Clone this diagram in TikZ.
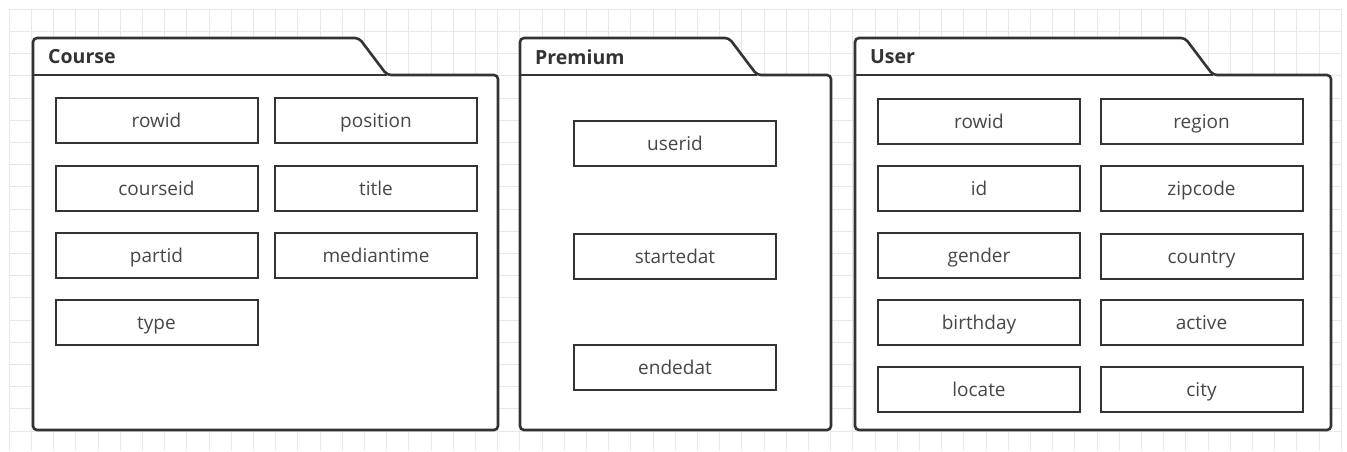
\documentclass[tikz,border=0pt]{standalone}
\usepackage{fontspec}
\setmainfont{Open Sans}
\definecolor{ink}{HTML}{333333}
\definecolor{gridline}{HTML}{E8E8E8}
\tikzset{
  field/.style={draw=ink, line width=2pt, fill=white, minimum width=202pt,
    minimum height=45pt, inner sep=0pt, text height=18pt, text depth=4pt,
    font=\fontsize{19}{21}\selectfont, text=ink!90},
  pkgline/.style={draw=ink, line width=2.6pt, fill=white, rounded corners=4pt},
  pkgtitle/.style={anchor=west, inner sep=0pt, font=\bfseries\fontsize{19.5}{21}\selectfont, text=ink}
}
\begin{document}
\begin{tikzpicture}[x=1pt, y=-1pt]
\useasboundingbox (0,0) rectangle (1347,451);
\fill[white] (0,0) rectangle (1347,451);
% background grid
\foreach \i in {0,...,60} {
  \draw[gridline, line width=1pt] ({9.3+22.2*\i},9.3) -- ({9.3+22.2*\i},451);
}
\foreach \j in {0,...,19} {
  \draw[gridline, line width=1pt] (9.3,{9.3+22.2*\j}) -- (1341.7,{9.3+22.2*\j});
}

% package Course
\draw[pkgline] (33,200) -- (33,38) -- (359,38) -- (387,75) -- (498,75) -- (498,430) -- (33,430) -- cycle;
\draw[ink, line width=2.6pt] (33,75) -- (387,75);
\node[pkgtitle] (course) at (48,57) {Course};

% package Premium
\draw[pkgline] (520,200) -- (520,38) -- (729,38) -- (757,75) -- (831,75) -- (831,430) -- (520,430) -- cycle;
\draw[ink, line width=2.6pt] (520,75) -- (757,75);
\node[pkgtitle] (premium) at (535,57) {Premium};

% package User
\draw[pkgline] (855,200) -- (855,38) -- (1185,38) -- (1213,75) -- (1331,75) -- (1331,430) -- (855,430) -- cycle;
\draw[ink, line width=2.6pt] (855,75) -- (1213,75);
\node[pkgtitle] (user) at (870,57) {User};

% Course fields
\node[field] (c-rowid) at (156.5,120.5) {rowid};
\node[field] (c-position) at (376,120.5) {position};
\node[field] (c-courseid) at (156.5,188) {courseid};
\node[field] (c-title) at (376,188) {title};
\node[field] (c-partid) at (156.5,255) {partid};
\node[field] (c-mediantime) at (376,255) {mediantime};
\node[field] (c-type) at (156.5,322.5) {type};

% Premium fields
\node[field] (p-userid) at (675,143.5) {userid};
\node[field] (p-startedat) at (675,256.5) {startedat};
\node[field] (p-endedat) at (675,367.5) {endedat};

% User fields
\node[field] (u-rowid) at (979,121) {rowid};
\node[field] (u-region) at (1201.5,121) {region};
\node[field] (u-id) at (979,188.5) {id};
\node[field] (u-zipcode) at (1201.5,188.5) {zipcode};
\node[field] (u-gender) at (979,255.5) {gender};
\node[field] (u-country) at (1201.5,256.5) {country};
\node[field] (u-birthday) at (979,322.5) {birthday};
\node[field] (u-active) at (1201.5,322.5) {active};
\node[field] (u-locate) at (979,389.5) {locate};
\node[field] (u-city) at (1201.5,389.5) {city};
\end{tikzpicture}
\end{document}
